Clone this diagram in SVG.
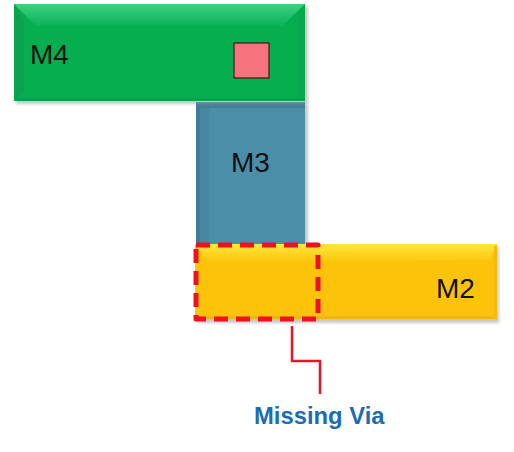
<svg xmlns="http://www.w3.org/2000/svg" width="514" height="452" viewBox="0 0 514 452">
<defs>
<linearGradient id="gTop" x1="0" y1="0" x2="0" y2="1"><stop offset="0" stop-color="#3fd083"/><stop offset="1" stop-color="#0bb257"/></linearGradient>
<linearGradient id="yTop" x1="0" y1="0" x2="0" y2="1"><stop offset="0" stop-color="#ffe63c"/><stop offset="1" stop-color="#fdc60c"/></linearGradient>
<filter id="sh" x="-5%" y="-5%" width="112%" height="115%"><feGaussianBlur stdDeviation="1.5"/></filter>
</defs>
<style>
.lbl{font-family:"Liberation Sans",Arial,sans-serif;font-size:28px;fill:#111}
.shadow{fill:#9a9a9a;opacity:.55;filter:url(#sh)}
</style>
<rect width="514" height="452" fill="#fff"/>
<g id="M3">
<rect class="shadow" x="198" y="104" width="110" height="142"/>
<rect x="196" y="102" width="109" height="143" fill="#4b8ea8"/>
<rect x="196" y="102" width="13" height="143" fill="#46889f"/>
<rect x="196" y="102" width="4" height="143" fill="#3f7b93"/>
<rect x="196" y="102" width="109" height="6" fill="#427d99"/>
<text class="lbl" x="231" y="172">M3</text>
</g>
<g id="M4">
<rect class="shadow" x="16" y="7" width="292" height="97"/>
<rect x="14" y="4" width="291" height="97" fill="#07ae50"/>
<polygon points="14,4 305,4 282,26 36,26" fill="url(#gTop)"/>
<polygon points="14,4 24,20 24,92 14,101" fill="#0ba250"/>
<polygon points="305,4 298,14 298,96 305,101" fill="#08a850"/>
<rect x="14" y="98" width="291" height="3" fill="#0aa14e"/>
<text class="lbl" x="30" y="64">M4</text>
</g>
<g id="via">
<rect x="234" y="43" width="35" height="35" fill="#f4737d" stroke="#4a1012" stroke-width="1.2"/>
</g>
<g id="M2">
<rect class="shadow" x="197" y="247" width="302" height="76"/>
<rect x="195" y="244" width="302" height="75" fill="#fdc30b"/>
<polygon points="195,244 497,244 490,260 208,262" fill="url(#yTop)"/>
<rect x="195" y="316" width="302" height="3" fill="#f0b70c"/>
<rect x="494" y="246" width="3" height="73" fill="#f3bb0c"/>
<text class="lbl" x="436" y="298">M2</text>
</g>
<g id="missing-via">
<rect x="196" y="245" width="122" height="74" fill="none" stroke="#ee1122" stroke-width="5" stroke-dasharray="14 8" stroke-linejoin="round"/>
</g>
<g id="connectors">
<polyline points="292,326 292,361 320,361 320,394" fill="none" stroke="#e8142a" stroke-width="2.5"/>
</g>
<g id="label">
<text x="254" y="424" font-family="'Liberation Sans',Arial,sans-serif" font-size="23.8" font-weight="bold" fill="#1b6cb0">Missing Via</text>
</g>
</svg>
